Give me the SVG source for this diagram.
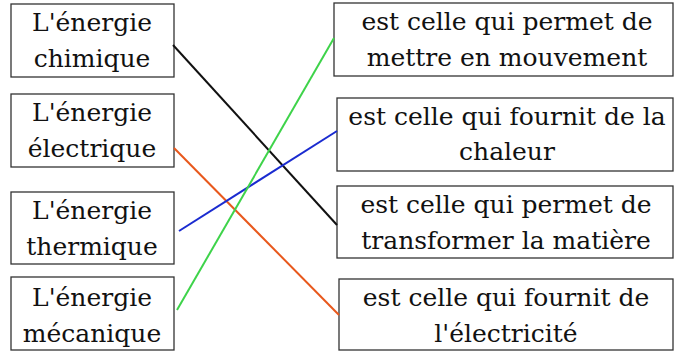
<svg xmlns="http://www.w3.org/2000/svg" width="674" height="351" viewBox="0 0 674 351">
<style>
.box{fill:#fff;stroke:#333;stroke-width:1.3}
.c{fill:none;stroke-width:2}
</style>
<rect width="674" height="351" fill="#fff"/>
<g font-size="25" fill="#111" text-anchor="middle">
<g id="n1" font-family="DejaVu Serif"><rect class="box" x="11" y="4" width="163" height="73"/><text x="92" y="31">L'énergie</text><text x="92" y="67">chimique</text></g>
<g id="n2" font-family="DejaVu Serif"><rect class="box" x="11" y="94" width="163" height="73"/><text x="92" y="121">L'énergie</text><text x="92" y="157">électrique</text></g>
<g id="n3" font-family="DejaVu Serif"><rect class="box" x="11" y="192" width="163" height="72"/><text x="92" y="219">L'énergie</text><text x="92" y="255">thermique</text></g>
<g id="n4" font-family="DejaVu Serif"><rect class="box" x="11" y="277" width="163" height="73"/><text x="92" y="306">L'énergie</text><text x="92" y="342">mécanique</text></g>
<g id="r1" font-family="DejaVu Serif"><rect class="box" x="334" y="3" width="339" height="73"/><text x="507" y="30">est celle qui permet de</text><text x="507" y="66">mettre en mouvement</text></g>
<g id="r2" font-family="DejaVu Serif"><rect class="box" x="337" y="98" width="336" height="73"/><text x="507" y="125">est celle qui fournit de la</text><text x="507" y="160">chaleur</text></g>
<g id="r3" font-family="DejaVu Serif"><rect class="box" x="337" y="186" width="336" height="72"/><text x="506" y="213">est celle qui permet de</text><text x="506" y="249">transformer la matière</text></g>
<g id="r4" font-family="DejaVu Serif"><rect class="box" x="339" y="279" width="334" height="71"/><text x="506" y="306">est celle qui fournit de</text><text x="506" y="342">l'électricité</text></g>
</g>
<g id="connectors">
<line class="c" x1="173" y1="45" x2="337" y2="225" stroke="#111"/>
<line class="c" x1="174" y1="148" x2="339" y2="315" stroke="#e8581c"/>
<line class="c" x1="179" y1="231" x2="337" y2="131" stroke="#1a2bd0"/>
<line class="c" x1="177" y1="310" x2="334" y2="38" stroke="#3ed34a"/>
</g>
</svg>
